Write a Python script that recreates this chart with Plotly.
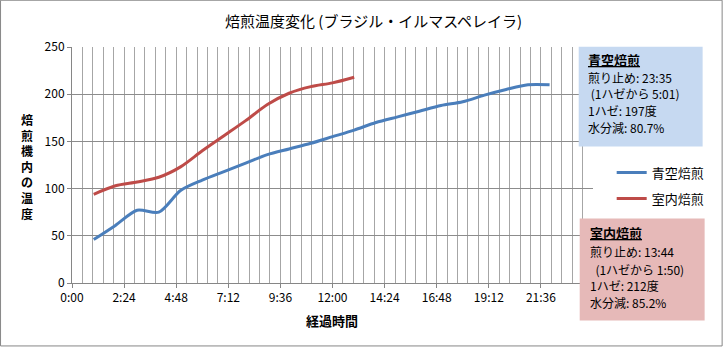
import plotly.graph_objects as go

# ---- data ----
blue_name = "青空焙煎"
red_name = "室内焙煎"
blue_minutes = [1, 2, 3, 4, 5, 6, 7, 8, 9, 10, 11, 12, 13, 14, 15, 16, 17, 18, 19, 20, 21, 22]
blue_temps = [46, 61, 77, 75, 98, 109, 118, 127, 136, 142, 148, 155, 162, 170, 176, 182, 188, 192, 199, 205, 210, 210]
red_minutes = [1, 2, 3, 4, 5, 6, 7, 8, 9, 10, 11, 12, 13]
red_temps = [94, 103, 107, 112, 123, 140, 156, 172, 189, 201, 208, 212, 218]
x_tick_vals = [0, 2.4, 4.8, 7.2, 9.6, 12.0, 14.4, 16.8, 19.2, 21.6]
x_tick_labels = ["0:00", "2:24", "4:48", "7:12", "9:36", "12:00", "14:24", "16:48", "19:12", "21:36"]
y_tick_vals = [0, 50, 100, 150, 200, 250]

title_text = "焙煎温度変化 (ブラジル・イルマスペレイラ)"
x_title = "経過時間"
y_title = "焙煎機内の温度"
blue_box_lines = ["<b><u>青空焙煎</u></b>", "煎り止め: 23:35", " (1ハゼから 5:01)", "1ハゼ: 197度", "水分減: 80.7%"]
red_box_lines = ["<b><u>室内焙煎</u></b>", "煎り止め: 13:44", "  (1ハゼから 1:50)", "1ハゼ: 212度", "水分減: 85.2%"]

# ---- layout geometry (pixels) ----
W, H = 723, 347
L, R, T, B = 72, 593.3, 47.3, 283.5
FONT = "Noto Sans CJK JP"


def px(xp):
    return (xp - L) / (R - L)


def py(yp):
    return (B - yp) / (B - T)


fig = go.Figure()
fig.add_trace(go.Scatter(x=blue_minutes, y=blue_temps, mode="lines", name=blue_name,
                         line=dict(color="#4A7EBB", width=3, shape="spline", smoothing=0.8),
                         legendgroup="a"))
fig.add_trace(go.Scatter(x=red_minutes, y=red_temps, mode="lines", name=red_name,
                         line=dict(color="#BE4B48", width=3, shape="spline", smoothing=0.8),
                         legendgroup="b"))

shapes = [
    dict(type="rect", xref="paper", yref="paper", x0=px(0.5), x1=px(722.5), y0=py(346.5), y1=py(0.5),
         line=dict(color="#878787", width=1), layer="below"),
    dict(type="rect", xref="paper", yref="paper", x0=px(579), x1=px(703), y0=py(147), y1=py(47),
         fillcolor="#C6D9F1", line=dict(width=0), layer="above"),
    dict(type="rect", xref="paper", yref="paper", x0=px(580), x1=px(705), y0=py(321), y1=py(219),
         fillcolor="#E6B9B8", line=dict(width=0), layer="above"),
]

annotations = []
# title
annotations.append(dict(text=title_text, xref="paper", yref="paper", x=px(374), y=py(21),
                        xanchor="center", yanchor="middle", showarrow=False,
                        font=dict(family=FONT, size=15, color="#000000")))
# x axis title
annotations.append(dict(text="<b>" + x_title + "</b>", xref="paper", yref="paper", x=px(332), y=py(321),
                        xanchor="center", yanchor="middle", showarrow=False,
                        font=dict(family=FONT, size=13, color="#000000")))
# y axis title, stacked characters
annotations.append(dict(text="<b>" + "<br>".join(list(y_title)) + "</b>", xref="paper", yref="paper",
                        x=px(27), y=py(167), xanchor="center", yanchor="middle", showarrow=False,
                        font=dict(family=FONT, size=12, color="#000000")))

# info boxes
blue_line_y = [60, 78, 94, 111, 128]
red_line_y = [233, 252, 270, 286, 303]
for lines, ys, x0 in [(blue_box_lines, blue_line_y, 586), (red_box_lines, red_line_y, 588)]:
    for j, (t, yy) in enumerate(zip(lines, ys)):
        annotations.append(dict(text=t.replace(" ", "&nbsp;") if j == 2 else t,
                                xref="paper", yref="paper", x=px(x0), y=py(yy),
                                xanchor="left", yanchor="middle", showarrow=False,
                                font=dict(family=FONT, size=13 if j == 0 else 12, color="#000000")))

fig.update_layout(
    width=W, height=H,
    margin=dict(l=L, r=W - R, t=T, b=H - B),
    paper_bgcolor="white", plot_bgcolor="white",
    font=dict(family=FONT, size=12, color="#000000"),
    showlegend=True,
    legend=dict(x=px(612), y=py(158), xanchor="left", yanchor="top",
                font=dict(family=FONT, size=13, color="#000000"),
                bgcolor="rgba(0,0,0,0)", traceorder="grouped", tracegroupgap=6,
                itemwidth=30),
    shapes=shapes,
    annotations=annotations,
)

fig.update_xaxes(range=[0, 24], tickmode="array", tickvals=x_tick_vals, ticktext=x_tick_labels,
                 showgrid=True, gridcolor="#A6A6A6", gridwidth=1,
                 minor=dict(tickmode="linear", tick0=0, dtick=0.48, showgrid=True, gridcolor="#A6A6A6",
                            gridwidth=1, ticks=""),
                 ticks="outside", ticklen=4, tickcolor="#868686",
                 showline=True, linecolor="#868686", linewidth=1,
                 zeroline=False, tickfont=dict(family=FONT, size=12, color="#000000"))
fig.update_yaxes(range=[0, 250], tickmode="array", tickvals=y_tick_vals,
                 showgrid=True, gridcolor="#8C8C8C", gridwidth=1,
                 ticks="outside", ticklen=4, tickcolor="#868686",
                 showline=True, linecolor="#868686", linewidth=1,
                 zeroline=False, tickfont=dict(family=FONT, size=12, color="#000000"))

fig.write_html("out.html")
